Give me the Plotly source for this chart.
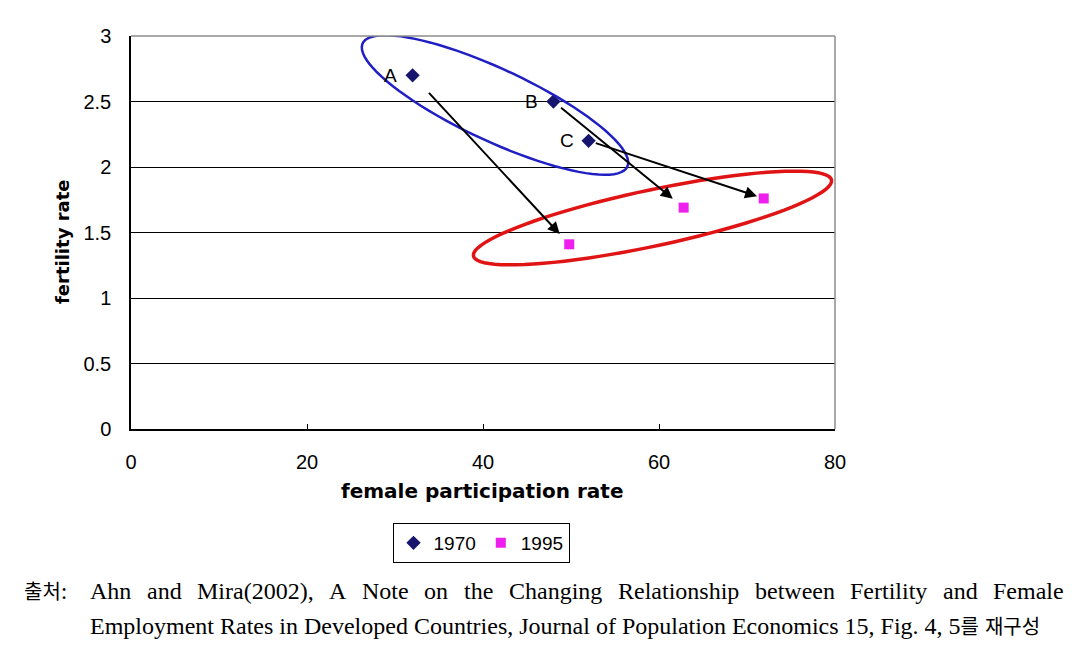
import numpy as np
import plotly.graph_objects as go

# ---------------- data ----------------
countries = ["A", "B", "C"]
part_1970 = [32, 48, 52]
fert_1970 = [2.7, 2.5, 2.2]
part_1995 = [49.8, 62.8, 71.9]
fert_1995 = [1.41, 1.69, 1.76]

x_ticks = [0, 20, 40, 60, 80]
y_ticks = [0, 0.5, 1, 1.5, 2, 2.5, 3]
y_tick_text = ["0", "0.5", "1", "1.5", "2", "2.5", "3"]

caption_label = "출처:"
caption_line1 = ["Ahn", "and", "Mira(2002),", "A", "Note", "on", "the", "Changing",
                 "Relationship", "between", "Fertility", "and", "Female"]
caption_line2 = "Employment Rates in Developed Countries, Journal of Population Economics 15, Fig. 4, 5를 재구성"

# ---------------- layout geometry (screen pixels) ----------------
OFF = 8                      # page body margin
W, H = 1081 - OFF, 654 - OFF
L, R, T, B = 131, 835, 36, 429   # plot area on screen
XR = (0, 80)
YR = (0, 3)
PXX = (R - L) / (XR[1] - XR[0])
PXY = (B - T) / (YR[1] - YR[0])

def px2x(px):
    return XR[0] + (px - L) / PXX

def py2y(py):
    return YR[0] + (B - py) / PXY

def pxp(px):   # screen x -> paper x
    return (px - L) / (R - L)

def pyp(py):   # screen y -> paper y
    return (B - py) / (B - T)

def ellipse_path(cx_px, cy_px, a, b, ang_deg, n=90):
    t = np.linspace(0, 2 * np.pi, n)
    ang = np.radians(ang_deg)
    dx = a * np.cos(t) * np.cos(ang) - b * np.sin(t) * np.sin(ang)
    dy = a * np.cos(t) * np.sin(ang) + b * np.sin(t) * np.cos(ang)
    xs = px2x(cx_px + dx)
    ys = py2y(cy_px + dy)
    return "M " + " L ".join(f"{x:.3f},{y:.4f}" for x, y in zip(xs, ys)) + " Z"

def korean_small(s, size=19):
    out, buf, is_k = [], "", None
    for ch in s:
        k = "\uac00" <= ch <= "\ud7a3"
        if is_k is None or k == is_k:
            buf += ch
        else:
            out.append((buf, is_k)); buf = ch
        is_k = k
    if buf:
        out.append((buf, is_k))
    return "".join(f"<span style='font-size:{size}px'>{b}</span>" if k else b for b, k in out)

# Times-like advance widths (per 1000 em) for justifying the first caption line
TIMES_W = {"A": 722, "C": 667, "E": 611, "F": 556, "M": 889, "N": 722, "R": 667,
           "a": 444, "b": 500, "c": 444, "d": 500, "e": 444, "f": 333, "g": 500, "h": 500,
           "i": 278, "l": 278, "m": 778, "n": 500, "o": 500, "p": 500, "r": 333, "s": 389,
           "t": 278, "v": 500, "w": 722, "y": 500, "(": 333, ")": 333, ",": 250, ".": 250}

def word_width(w, size):
    return sum(TIMES_W.get(c, 500) for c in w) / 1000 * size

SANS = "Liberation Sans, Arial, sans-serif"
BOLD = "DejaVu Sans, sans-serif"
SERIF = "Liberation Serif, 'Noto Sans CJK KR', serif"

fig = go.Figure()
fig.add_trace(go.Scatter(
    x=part_1970, y=fert_1970, mode="markers", name="1970",
    marker=dict(symbol="diamond", size=11, color="#16166e"),
))
fig.add_trace(go.Scatter(
    x=part_1995, y=fert_1995, mode="markers", name="1995",
    marker=dict(symbol="square", size=10, color="#ee1fee"),
))

shapes = []
shapes.append(dict(type="path", xref="x", yref="y",
                   path=ellipse_path(495, 105, 146, 36, 25),
                   line=dict(color="#1f1fc4", width=2.5), layer="above"))
shapes.append(dict(type="path", xref="x", yref="y",
                   path=ellipse_path(652.5, 218, 183, 28, -12),
                   line=dict(color="#e01414", width=3.5), layer="above"))
shapes.append(dict(type="line", xref="paper", yref="paper", x0=0, x1=1, y0=1, y1=1,
                   line=dict(color="#8c8c8c", width=1.5), layer="above"))
shapes.append(dict(type="line", xref="paper", yref="paper", x0=1, x1=1, y0=0, y1=1,
                   line=dict(color="#8c8c8c", width=1.5), layer="above"))

annotations = []
tail_off = [22, 8, 6]
head_off = [14, 14, 7]
for i in range(len(countries)):
    annotations.append(dict(
        x=part_1995[i], y=fert_1995[i], ax=part_1970[i], ay=fert_1970[i],
        xref="x", yref="y", axref="x", ayref="y", text="",
        showarrow=True, arrowhead=2, arrowsize=1.2, arrowwidth=2, arrowcolor="#000000",
        standoff=head_off[i], startstandoff=tail_off[i],
    ))
    annotations.append(dict(
        x=part_1970[i], y=fert_1970[i], xref="x", yref="y", text=countries[i],
        showarrow=False, xshift=-22, font=dict(family=SANS, size=19, color="#000000"),
    ))

annotations.append(dict(text="<b>female participation rate</b>", xref="paper", yref="paper",
                        x=pxp(482), y=pyp(491), showarrow=False,
                        xanchor="center", yanchor="middle",
                        font=dict(family=BOLD, size=20, color="#000000")))
annotations.append(dict(text="<b>fertility rate</b>", xref="paper", yref="paper",
                        x=pxp(62), y=pyp(242), showarrow=False,
                        textangle=-90, xanchor="center", yanchor="middle",
                        font=dict(family=BOLD, size=18, color="#000000")))

CAP_SIZE = 24
cap_font = dict(family=SERIF, size=CAP_SIZE, color="#000000")
annotations.append(dict(text=korean_small(caption_label, 20), xref="paper", yref="paper",
                        x=pxp(22), y=pyp(591), showarrow=False,
                        xanchor="left", yanchor="middle", font=cap_font))
# justified first line between screen x 88 and 1062
line_l, line_r = 88, 1062
widths = [word_width(w, CAP_SIZE) for w in caption_line1]
gap = (line_r - line_l - sum(widths)) / (len(caption_line1) - 1)
xpos = line_l
for w, wd in zip(caption_line1, widths):
    annotations.append(dict(text=w, xref="paper", yref="paper",
                            x=pxp(xpos), y=pyp(591), showarrow=False,
                            xanchor="left", yanchor="middle", font=cap_font))
    xpos += wd + gap
annotations.append(dict(text=korean_small(caption_line2, 20), xref="paper", yref="paper",
                        x=pxp(88), y=pyp(626), showarrow=False,
                        xanchor="left", yanchor="middle", font=cap_font))

fig.update_layout(
    width=W, height=H,
    margin=dict(l=L - OFF, r=(W + OFF) - R, t=T - OFF, b=(H + OFF) - B, pad=0),
    paper_bgcolor="white", plot_bgcolor="white",
    shapes=shapes, annotations=annotations,
    showlegend=True,
    legend=dict(orientation="h", x=pxp(481), y=pyp(523),
                xanchor="center", yanchor="top",
                bordercolor="#000000", borderwidth=1,
                font=dict(family=SANS, size=19, color="#000000"),
                itemwidth=30, tracegroupgap=0),
    xaxis=dict(range=list(XR), tickvals=x_ticks, ticktext=[str(v) for v in x_ticks],
               showgrid=False, zeroline=False, showline=True, linecolor="#000000", linewidth=1.5,
               ticks="inside", ticklen=5, tickcolor="#000000", tickwidth=1,
               ticklabelstandoff=14,
               tickfont=dict(family=SANS, size=20, color="#000000")),
    yaxis=dict(range=list(YR), tickvals=y_ticks, ticktext=y_tick_text,
               showgrid=True, gridcolor="#000000", gridwidth=1.2, zeroline=False,
               showline=True, linecolor="#000000", linewidth=1.5,
               ticks="", ticklabelstandoff=14,
               tickfont=dict(family=SANS, size=20, color="#000000")),
)

fig.write_html("out.html")
